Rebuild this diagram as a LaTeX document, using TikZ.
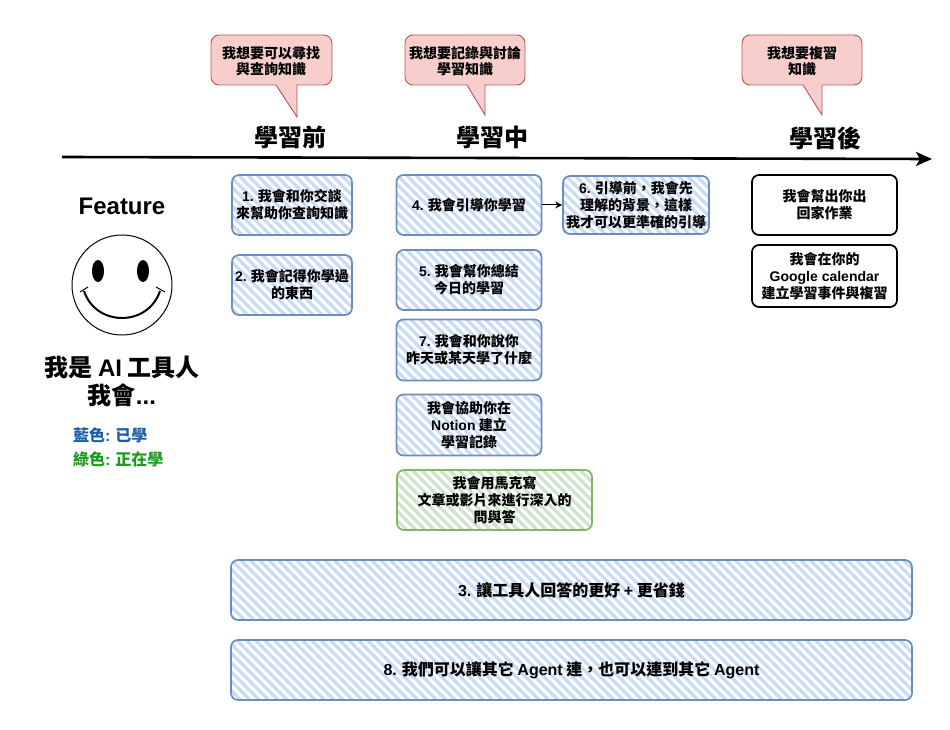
\documentclass[tikz,border=0pt]{standalone}
\usepackage{fontspec}
\setmainfont{Noto Sans CJK TC}
\newfontfamily\lat{Liberation Sans}
\usetikzlibrary{patterns.meta,arrows.meta}
\definecolor{bstroke}{HTML}{6C8EBF}
\definecolor{bhatch}{HTML}{C8DBF5}
\definecolor{gstroke}{HTML}{82B366}
\definecolor{ghatch}{HTML}{CDE4CB}
\definecolor{rstroke}{HTML}{B85450}
\definecolor{rfill}{HTML}{F8CECC}
\definecolor{legblue}{HTML}{1D5DA8}
\definecolor{leggreen}{HTML}{1E9A1E}
\tikzset{
  boxtext/.style={align=center,font=\bfseries\fontsize{14}{17}\selectfont,inner sep=0pt},
  widetext/.style={font=\bfseries\fontsize{16}{19}\selectfont},
  bluebox/.style={boxtext,draw=bstroke,line width=1.7pt,rounded corners=7pt,
    pattern={Lines[angle=-45,distance=6.6pt,line width=3.2pt]},pattern color=bhatch},
  greenbox/.style={boxtext,draw=gstroke,line width=1.7pt,rounded corners=7pt,
    pattern={Lines[angle=-45,distance=6.6pt,line width=3.2pt]},pattern color=ghatch},
  blackbox/.style={boxtext,draw=black,line width=1.7pt,rounded corners=7pt,fill=white},
  callout/.style={draw=rstroke,fill=rfill,line width=0.9pt},
  callouttext/.style={align=center,font=\bfseries\fontsize{14}{16.5}\selectfont,inner sep=0pt},
  heading/.style={font=\bfseries\fontsize{24}{28}\selectfont,inner sep=0pt},
}
\begin{document}
\begin{tikzpicture}[x=1pt,y=-1pt]
\useasboundingbox (0,0) rectangle (950,730);

% callouts
\draw[callout] (276,85) [rounded corners=8pt] -- (211,85) -- (211,35) -- (332,35) -- (332,85) [sharp corners] -- (297,85) -- (297,117) -- cycle;
\node[callouttext] (c1) at (271,61) {我想要可以尋找\\與查詢知識};
\draw[callout] (467,85) [rounded corners=8pt] -- (405,85) -- (405,35) -- (525,35) -- (525,85) [sharp corners] -- (485,85) -- (485,115) -- cycle;
\node[callouttext] (c2) at (465,61) {我想要記錄與討論\\學習知識};
\draw[callout] (803,85) [rounded corners=8pt] -- (742,85) -- (742,35) -- (862,35) -- (862,85) [sharp corners] -- (822,85) -- (822,115) -- cycle;
\node[callouttext] (c3) at (802,61) {我想要複習\\知識};

% headings
\node[heading] (h1) at (290,137) {學習前};
\node[heading] (h2) at (492,137) {學習中};
\node[heading] (h3) at (825,138) {學習後};

% timeline
\coordinate (tl0) at (62,157);
\coordinate (tl1) at (932,159);
\draw[line width=2.6pt,-{Stealth[length=16pt,width=14pt,inset=4pt]}] (tl0) -- (tl1);

% left column
\node[font=\bfseries\fontsize{24}{28}\selectfont\lat,inner sep=0pt] (feat) at (122,206) {Feature};
\node[draw,circle,line width=1pt,minimum size=100pt,inner sep=0pt] (face) at (122,285) {};
\fill (98,271) ellipse [x radius=6pt,y radius=11pt];
\fill (143,271) ellipse [x radius=6pt,y radius=11pt];
\draw[line width=2pt] (84,291) .. controls (96,327) and (148,327) .. (160,291);
\draw[line width=1pt] (80,292) -- (88,287);
\draw[line width=1pt] (156,287) -- (165,292);
\node[align=center,font=\bfseries\fontsize{24}{28}\selectfont,inner sep=0pt] (me) at (122,381) {我是 {\lat AI} 工具人\\我會{\lat ...}};
\node[anchor=west,text=legblue,font=\bfseries\fontsize{16}{19}\selectfont,inner sep=0pt] (lb) at (73,435) {藍色{\lat :} 已學};
\node[anchor=west,text=leggreen,font=\bfseries\fontsize{16}{19}\selectfont,inner sep=0pt] (lg) at (73,459) {綠色{\lat :} 正在學};

% before-learning boxes
\node[bluebox,minimum width=120pt,minimum height=60pt] (b1) at (292,205) {{\lat 1.} 我會和你交談\\來幫助你查詢知識};
\node[bluebox,minimum width=120pt,minimum height=60pt] (b2) at (292,285) {{\lat 2.} 我會記得你學過\\的東西};

% during-learning boxes
\node[bluebox,minimum width=145pt,minimum height=60pt] (b4) at (469,205) {{\lat 4.} 我會引導你學習};
\node[bluebox,minimum width=146pt,minimum height=58pt] (b6) at (636,205) {{\lat 6.} 引導前，我會先\\理解的背景，這樣\\我才可以更準確的引導};
\draw[line width=1pt,-{Stealth[length=7pt,width=7pt]}] (b4) -- (b6);
\node[bluebox,minimum width=145pt,minimum height=60pt] (b5) at (469,280) {{\lat 5.} 我會幫你總結\\今日的學習};
\node[bluebox,minimum width=145pt,minimum height=61pt] (b7) at (469,350) {{\lat 7.} 我會和你說你\\昨天或某天學了什麼};
\node[bluebox,minimum width=145pt,minimum height=61pt] (bn) at (469,425) {我會協助你在\\{\lat Notion} 建立\\學習記錄};
\node[greenbox,minimum width=195pt,minimum height=60pt] (bg) at (494.5,500) {我會用馬克寫\\文章或影片來進行深入的\\問與答};

% wide boxes
\node[bluebox,widetext,minimum width=681pt,minimum height=60pt] (b3) at (571.5,590) {{\lat 3.} 讓工具人回答的更好 {\lat +} 更省錢};
\node[bluebox,widetext,minimum width=681pt,minimum height=60pt] (b8) at (571.5,670) {{\lat 8.} 我們可以讓其它 {\lat Agent} 連，也可以連到其它 {\lat Agent}};

% after-learning boxes
\node[blackbox,minimum width=145pt,minimum height=60pt] (ha) at (824.5,205) {我會幫出你出\\回家作業};
\node[blackbox,minimum width=145pt,minimum height=62pt] (hb) at (824.5,276) {我會在你的\\{\lat Google calendar}\\建立學習事件與複習};
\end{tikzpicture}
\end{document}
